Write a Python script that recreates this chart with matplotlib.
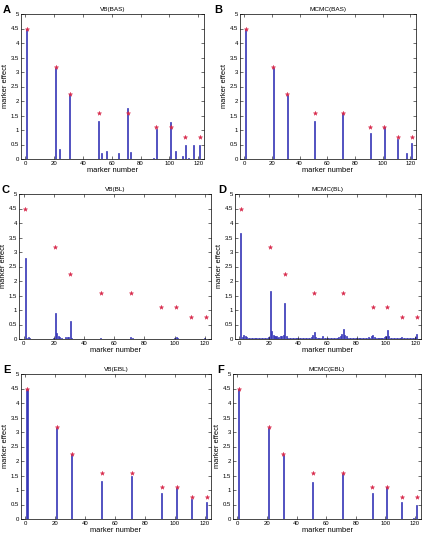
import numpy as np
import matplotlib.pyplot as plt

plt.rcParams['font.family'] = ['Liberation Sans', 'DejaVu Sans']

markers = np.arange(1, 122)

# true (simulated) effects, shown as red stars
true_idx = [1, 21, 31, 51, 71, 91, 101, 111, 121]
true_val = [4.47, 3.16, 2.24, 1.58, 1.58, 1.10, 1.10, 0.77, 0.77]

# estimated effects: sparse (marker, value) lists, other markers sit at a small floor
vb_bas_idx = [1, 21, 24, 31, 51, 53, 56, 65, 71, 73, 89, 91, 101, 104, 109, 111, 113, 117, 121]
vb_bas_val = [4.47, 3.15, 0.33, 2.25, 1.32, 0.22, 0.28, 0.22, 1.75, 0.25, 0.05, 1.05, 1.27, 0.28, 0.12, 0.48, 0.05, 0.50, 0.48]
vb_bas_floor = 0.01

mcmc_bas_idx = [1, 21, 31, 51, 71, 91, 101, 111, 117, 121]
mcmc_bas_val = [4.47, 3.15, 2.22, 1.32, 1.58, 0.90, 1.12, 0.70, 0.22, 0.55]
mcmc_bas_floor = 0.01

vb_bl_idx = [1, 2, 3, 4, 20, 21, 22, 23, 24, 25, 28, 29, 30, 31, 32, 51, 71, 72, 100, 101, 102, 120]
vb_bl_val = [2.78, 0.05, 0.07, 0.05, 0.04, 0.88, 0.22, 0.10, 0.08, 0.05, 0.06, 0.07, 0.08, 0.62, 0.05, 0.04, 0.06, 0.04, 0.05, 0.06, 0.04, 0.05]
vb_bl_floor = 0.015

mcmc_bl_idx = [1, 2, 3, 4, 5, 6, 12, 15, 19, 20, 21, 22, 23, 24, 25, 27, 28, 29, 30, 31, 32, 33,
               45, 48, 49, 50, 51, 52, 57, 64, 68, 69, 70, 71, 72, 73, 74, 86, 88, 90, 91, 92,
               96, 99, 100, 101, 102, 103, 108, 111, 112, 119, 120, 121]
mcmc_bl_val = [3.65, 0.08, 0.13, 0.10, 0.08, 0.05, 0.04, 0.05, 0.05, 0.08, 1.65, 0.28, 0.15, 0.12, 0.10,
               0.08, 0.10, 0.12, 0.15, 1.25, 0.10, 0.05, 0.04, 0.05, 0.08, 0.15, 0.25, 0.08, 0.10, 0.04,
               0.06, 0.10, 0.18, 0.33, 0.15, 0.10, 0.05, 0.05, 0.06, 0.10, 0.15, 0.08, 0.05, 0.06, 0.10,
               0.30, 0.10, 0.05, 0.04, 0.06, 0.03, 0.05, 0.08, 0.17]
mcmc_bl_floor = 0.025

vb_ebl_idx = [1, 21, 31, 51, 71, 91, 101, 111, 121]
vb_ebl_val = [4.47, 3.15, 2.25, 1.30, 1.50, 0.88, 1.08, 0.68, 0.57]
vb_ebl_floor = 0.01

mcmc_ebl_idx = [1, 21, 31, 51, 71, 91, 101, 111, 119, 121]
mcmc_ebl_val = [4.47, 3.15, 2.22, 1.27, 1.55, 0.90, 1.12, 0.57, 0.03, 0.48]
mcmc_ebl_floor = 0.01

panels = [
    ("A", "VB(BAS)", vb_bas_idx, vb_bas_val, vb_bas_floor, (21, 204, 14, 159), (3, 10)),
    ("B", "MCMC(BAS)", mcmc_bas_idx, mcmc_bas_val, mcmc_bas_floor, (240, 416, 14, 159), (214, 10)),
    ("C", "VB(BL)", vb_bl_idx, vb_bl_val, vb_bl_floor, (19, 211, 194, 339), (2, 190)),
    ("D", "MCMC(BL)", mcmc_bl_idx, mcmc_bl_val, mcmc_bl_floor, (235, 421, 194, 339), (218, 190)),
    ("E", "VB(EBL)", vb_ebl_idx, vb_ebl_val, vb_ebl_floor, (21, 211, 374, 519), (3, 370)),
    ("F", "MCMC(EBL)", mcmc_ebl_idx, mcmc_ebl_val, mcmc_ebl_floor, (233, 421, 374, 519), (217, 370)),
]

W, H = 424, 534
fig = plt.figure(figsize=(W / 100, H / 100), dpi=100)

for letter, title, idx, val, floor, (x0, x1, y0, y1), (lx, ly) in panels:
    ax = fig.add_axes([x0 / W, 1 - y1 / H, (x1 - x0) / W, (y1 - y0) / H])
    heights = np.full(len(markers), floor)
    heights[np.array(idx) - 1] = val
    ax.bar(markers, heights, width=0.7, color="#3838b8", edgecolor="#3838b8", linewidth=0.5)
    ax.plot(true_idx, true_val, linestyle="none", marker="*", color="#d8284a",
            markersize=3.2, markeredgewidth=0.3)
    ax.set_xlim(-3, 124)
    ax.set_ylim(0, 5)
    ax.set_xticks(range(0, 121, 20))
    ax.set_yticks(np.arange(0, 5.01, 0.5))
    ax.set_yticklabels(["0", "0.5", "1", "1.5", "2", "2.5", "3", "3.5", "4", "4.5", "5"])
    ax.tick_params(direction="in", labelsize=4.3, length=2, width=0.4, pad=1.5,
                   top=True, right=True)
    for s in ax.spines.values():
        s.set_linewidth(0.5)
    ax.set_title(title, fontsize=4.6, pad=2.5)
    ax.set_xlabel("marker number", fontsize=5.4, labelpad=0.3)
    ax.set_ylabel("marker effect", fontsize=5.4, labelpad=1)
    fig.text(lx / W, 1 - ly / H, letter, fontsize=8, fontweight="bold", va="center", ha="left")

fig.savefig("out.png", dpi=100)
